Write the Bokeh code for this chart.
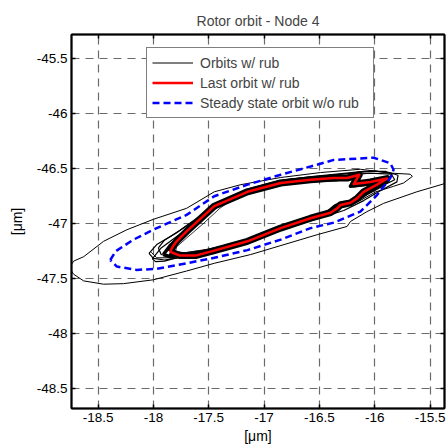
from bokeh.plotting import figure
from bokeh.models import Range1d, FixedTicker, LinearAxis, Legend, LegendItem
from bokeh.embed import file_html
from bokeh.resources import INLINE

# ---------------- data ----------------
x_ticks = [-18.5, -18.0, -17.5, -17.0, -16.5, -16.0, -15.5]
x_tick_labels = ["-18.5", "-18", "-17.5", "-17", "-16.5", "-16", "-15.5"]
y_ticks = [-48.5, -48.0, -47.5, -47.0, -46.5, -46.0, -45.5]
y_tick_labels = ["-48.5", "-48", "-47.5", "-47", "-46.5", "-46", "-45.5"]

# transient orbit with rub (outer thin black path)
transient_x = [-15.20, -15.35, -15.62, -15.92, -16.07, -16.22, -16.25, -16.52, -16.82, -17.12,
               -17.45, -17.70, -18.00, -18.27, -18.45, -18.63, -18.72, -18.76, -18.72, -18.63,
               -18.45, -18.24, -18.00, -17.70, -17.45, -17.21, -16.85, -16.49, -16.13, -15.86,
               -15.68, -15.66, -15.74, -15.83, -15.99, -16.15, -16.35, -16.60, -16.90, -17.20,
               -17.50, -17.80, -17.97, -18.02]
transient_y = [-46.60, -46.63, -46.71, -46.815, -46.89, -46.98, -47.025, -47.10, -47.19, -47.28,
               -47.36, -47.43, -47.51, -47.545, -47.55, -47.52, -47.46, -47.40, -47.34, -47.30,
               -47.16, -47.055, -46.96, -46.86, -46.71, -46.645, -46.58, -46.535, -46.505, -46.54,
               -46.55, -46.57, -46.63, -46.66, -46.71, -46.80, -46.87, -46.955, -47.06, -47.17,
               -47.26, -47.31, -47.31, -47.26]

# intermediate orbits with rub
orbit_a_x = [-18.04, -17.97, -17.80, -17.60, -17.40, -17.15, -16.85, -16.55, -16.30, -16.10,
             -15.90, -15.79, -15.80, -15.95, -16.10, -16.28, -16.50, -16.80, -17.10, -17.40,
             -17.70, -17.90, -18.00, -18.04]
orbit_a_y = [-47.27, -47.19, -47.09, -46.95, -46.80, -46.685, -46.605, -46.57, -46.545, -46.525,
             -46.525, -46.56, -46.62, -46.70, -46.79, -46.88, -46.95, -47.04, -47.15, -47.235,
             -47.30, -47.33, -47.315, -47.27]

orbit_b_x = [-18.01, -17.93, -17.78, -17.58, -17.38, -17.12, -16.82, -16.52, -16.25, -16.05,
             -15.85, -15.82, -15.98, -16.15, -16.32, -16.55, -16.85, -17.15, -17.45, -17.72,
             -17.90, -17.98, -18.01]
orbit_b_y = [-47.32, -47.22, -47.11, -46.965, -46.815, -46.69, -46.615, -46.58, -46.56, -46.54,
             -46.55, -46.60, -46.68, -46.78, -46.86, -46.94, -47.04, -47.15, -47.235, -47.29,
             -47.34, -47.345, -47.32]

orbit_c_x = [-17.955, -17.90, -17.76, -17.55, -17.35, -17.10, -16.80, -16.50, -16.20, -16.00,
             -15.84, -15.90, -16.05, -16.22, -16.45, -16.75, -17.05, -17.35, -17.65, -17.85,
             -17.93, -17.955]
orbit_c_y = [-47.22, -47.15, -47.06, -46.91, -46.78, -46.675, -46.60, -46.57, -46.54, -46.52,
             -46.545, -46.62, -46.71, -46.82, -46.915, -47.02, -47.125, -47.215, -47.275, -47.30,
             -47.28, -47.22]

orbit_d_x = [-17.91, -17.85, -17.72, -17.50, -17.20, -16.90, -16.60, -16.35, -16.20, -16.15,
             -16.22, -16.05, -15.88, -15.95, -16.08, -16.18, -16.30, -16.36, -16.42, -16.60,
             -16.90, -17.20, -17.50, -17.75, -17.85, -17.91]
orbit_d_y = [-47.28, -47.20, -47.09, -46.88, -46.72, -46.64, -46.61, -46.60, -46.575, -46.55,
             -46.66, -46.64, -46.61, -46.66, -46.73, -46.80, -46.81, -46.84, -46.89, -46.96,
             -47.06, -47.175, -47.245, -47.28, -47.30, -47.28]

inner_x = [-16.90, -17.20, -17.50, -17.72, -17.80, -17.79, -17.70, -17.55, -17.40, -17.30, -17.10]
inner_y = [-47.05, -47.16, -47.23, -47.265, -47.25, -47.21, -47.13, -47.00, -46.86, -46.79, -46.71]

# last orbit with rub (red)
last_x = [-17.85, -17.82, -17.79, -17.70, -17.45, -17.15, -16.85, -16.58, -16.37, -16.25,
          -16.14, -16.19, -16.04, -15.89, -15.98, -16.10, -16.16, -16.22, -16.31, -16.34,
          -16.40, -16.58, -16.85, -17.15, -17.45, -17.62, -17.76, -17.85]
last_y = [-47.255, -47.20, -47.16, -47.07, -46.84, -46.71, -46.63, -46.60, -46.585, -46.585,
          -46.555, -46.64, -46.62, -46.59, -46.645, -46.71, -46.77, -46.81, -46.83, -46.86,
          -46.90, -46.95, -47.04, -47.16, -47.245, -47.29, -47.29, -47.255]

# steady state orbit without rub (blue dashed)
steady_x = [-18.39, -18.34, -18.18, -17.97, -17.70, -17.45, -17.15, -16.85, -16.58, -16.37,
            -16.01, -15.86, -15.83, -15.86, -15.98, -16.13, -16.37, -16.58, -16.85, -17.15,
            -17.45, -17.70, -17.97, -18.15, -18.33, -18.39]
steady_y = [-47.33, -47.25, -47.145, -47.04, -46.92, -46.75, -46.645, -46.555, -46.48, -46.42,
            -46.40, -46.45, -46.51, -46.585, -46.74, -46.89, -46.99, -47.04, -47.145, -47.24,
            -47.31, -47.36, -47.41, -47.42, -47.39, -47.33]

FONT = "Liberation Sans"

p = figure(width=446, height=448,
           x_range=Range1d(-18.74, -15.37), y_range=Range1d(-48.68, -45.28),
           output_backend="svg", toolbar_location=None,
           min_border_left=71, min_border_right=2, min_border_top=34, min_border_bottom=40)

p.title.text = "Rotor orbit - Node 4"
p.title.align = "center"
p.title.text_font = FONT
p.title.text_font_size = "14px"
p.title.text_font_style = "normal"
p.title.standoff = 12

p.background_fill_color = "white"
p.border_fill_color = "white"
p.outline_line_color = "black"
p.outline_line_width = 1.5

xt = FixedTicker(ticks=x_ticks)
yt = FixedTicker(ticks=y_ticks)

def style_axis(ax, ticker, labels, show):
    ax.ticker = ticker
    ax.axis_line_color = "black"
    ax.axis_line_width = 2
    ax.major_tick_in = 4
    ax.major_tick_out = 0
    ax.major_tick_line_color = "black"
    ax.major_tick_line_width = 1.5
    ax.minor_tick_line_color = None
    if show:
        ax.major_label_overrides = {t: l for t, l in zip(ticker.ticks, labels)}
        ax.major_label_text_font = FONT
        ax.major_label_text_color = "black"
        ax.major_label_text_font_size = "13.5px"
    else:
        ax.major_label_text_color = None
        ax.major_label_text_font_size = "1px"
        ax.major_label_standoff = 0

for ax in p.xaxis:
    style_axis(ax, xt, x_tick_labels, True)
    ax.major_label_standoff = 4
    ax.axis_label = "[\u03bcm]"
    ax.axis_label_standoff = 3
for ax in p.yaxis:
    style_axis(ax, yt, y_tick_labels, True)
    ax.major_label_standoff = 4
    ax.axis_label = "[\u03bcm]"
    ax.axis_label_standoff = 9
for ax in list(p.xaxis) + list(p.yaxis):
    ax.axis_label_text_font = FONT
    ax.axis_label_text_font_size = "14px"
    ax.axis_label_text_font_style = "normal"
    ax.axis_label_text_color = "black"

top_ax = LinearAxis()
style_axis(top_ax, xt, x_tick_labels, False)
p.add_layout(top_ax, "above")
right_ax = LinearAxis()
style_axis(right_ax, yt, y_tick_labels, False)
p.add_layout(right_ax, "right")

for g, t in ((p.xgrid, xt), (p.ygrid, yt)):
    g.ticker = t
    g.grid_line_color = "#6a6a6a"
    g.grid_line_dash = "8 6"
    g.grid_line_width = 1.2

# black orbits with rub
r_mass = p.line(last_x, last_y, line_color="black", line_width=7, line_join="round")
p.line(orbit_d_x, orbit_d_y, line_color="black", line_width=3.5, line_join="round")
r_trans = p.line(transient_x, transient_y, line_color="black", line_width=1)
for ox, oy in ((orbit_a_x, orbit_a_y), (orbit_b_x, orbit_b_y), (orbit_c_x, orbit_c_y)):
    p.line(ox, oy, line_color="black", line_width=1.2)
p.line(inner_x, inner_y, line_color="black", line_width=0.8)

r_red = p.line(last_x, last_y, line_color="#ff0000", line_width=2.5, line_join="round")
r_blue = p.line(steady_x, steady_y, line_color="#0000ff", line_width=2.5, line_dash="7 4")

legend = Legend(items=[LegendItem(label="Orbits w/ rub", renderers=[r_trans]),
                       LegendItem(label="Last orbit w/ rub", renderers=[r_red]),
                       LegendItem(label="Steady state orbit w/o rub", renderers=[r_blue])],
                location=(75, 290))
legend.border_line_color = "black"
legend.border_line_width = 1
legend.background_fill_color = "white"
legend.background_fill_alpha = 1
legend.padding = 5
legend.spacing = 1
legend.margin = 0
legend.label_height = 19
legend.glyph_height = 19
legend.glyph_width = 41
legend.label_standoff = 7
legend.label_width = 168
legend.label_text_font = FONT
legend.label_text_font_size = "14px"
p.add_layout(legend)

open("out.html", "w").write(file_html(p, INLINE))
